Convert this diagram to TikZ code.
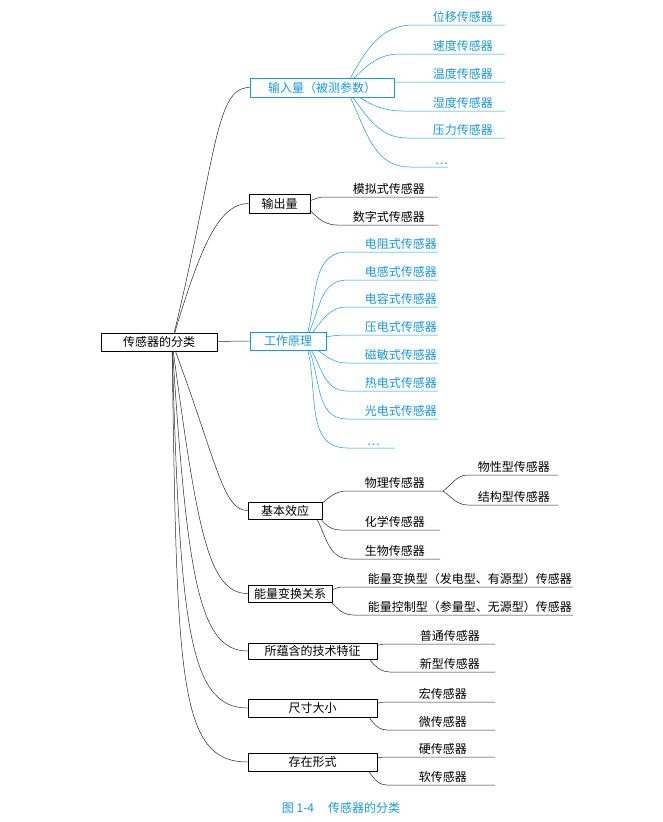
\documentclass[tikz,border=0pt]{standalone}
\usepackage{fontspec}
\setmainfont{Noto Sans CJK SC}
\definecolor{sblue}{RGB}{25,150,225}
\pgfdeclarelayer{bg}
\pgfsetlayers{bg,main}
\tikzset{
  box/.style={draw,line width=0.9pt,fill=white,inner sep=0pt,minimum height=18pt},
  bluebox/.style={box,draw=sblue,text=sblue},
  leaf/.style={anchor=south east,inner ysep=2pt,inner xsep=#1},
  leaf/.default=12pt,
  link/.style={line width=0.5pt,draw=black!85},
  bluelink/.style={line width=0.5pt,draw=sblue}
}
\begin{document}
\begin{tikzpicture}[x=1pt,y=-1pt,line cap=round,line join=round,
  every node/.style={font=\fontsize{12}{14}\selectfont}]
  \useasboundingbox (0,0) rectangle (663,822);
  % category boxes
  \node[box,minimum width=116pt] (root) at (159,342) {传感器的分类};
  \node[bluebox,minimum width=144pt,minimum height=19pt] (input) at (322,87.5) {输入量（被测参数）};
  \node[box,minimum width=61pt,minimum height=19pt] (output) at (279.5,203.5) {输出量};
  \node[bluebox,minimum width=76pt] (principle) at (288,341) {工作原理};
  \node[box,minimum width=74pt,minimum height=17pt] (effect) at (285,510.5) {基本效应};
  \node[box,minimum width=84pt,minimum height=17pt] (energy) at (290,593.5) {能量变换关系};
  \node[box,minimum width=129pt,minimum height=16pt] (tech) at (312.5,651) {所蕴含的技术特征};
  \node[box,minimum width=129pt] (size) at (312.5,708) {尺寸大小};
  \node[box,minimum width=129pt] (form) at (312.5,762) {存在形式};
  % leaves: input
  \node[leaf,text=sblue] (in1) at (505,25) {位移传感器};
  \node[leaf,text=sblue] (in2) at (505,54) {速度传感器};
  \node[leaf,text=sblue] (in3) at (505,82) {温度传感器};
  \node[leaf,text=sblue] (in4) at (505,111) {湿度传感器};
  \node[leaf,text=sblue] (in5) at (505,138) {压力传感器};
  \node[leaf=0pt,text=sblue] (in6) at (448,167) {…};
  % leaves: output
  \node[leaf=13pt] (out1) at (438,197) {模拟式传感器};
  \node[leaf=13pt] (out2) at (438,225) {数字式传感器};
  % leaves: principle
  \node[leaf=1pt,text=sblue] (p1) at (438,252) {电阻式传感器};
  \node[leaf=1pt,text=sblue] (p2) at (438,280) {电感式传感器};
  \node[leaf=1pt,text=sblue] (p3) at (438,307) {电容式传感器};
  \node[leaf=1pt,text=sblue] (p4) at (438,335) {压电式传感器};
  \node[leaf=1pt,text=sblue] (p5) at (438,363) {磁敏式传感器};
  \node[leaf=1pt,text=sblue] (p6) at (438,391) {热电式传感器};
  \node[leaf=1pt,text=sblue] (p7) at (438,419) {光电式传感器};
  \node[leaf=15pt,text=sblue] (p8) at (395,448) {…};
  % leaves: effect
  \node[leaf=18pt] (e1) at (443,491) {物理传感器};
  \node[leaf=8pt] (e11) at (558,475) {物性型传感器};
  \node[leaf=8pt] (e12) at (558,505) {结构型传感器};
  \node[leaf=15pt] (e2) at (440,530) {化学传感器};
  \node[leaf=15pt] (e3) at (440,559) {生物传感器};
  % leaves: energy
  \node[leaf=1pt] (n1) at (573,587) {能量变换型（发电型、有源型）传感器};
  \node[leaf=1pt] (n2) at (573,615) {能量控制型（参量型、无源型）传感器};
  % leaves: tech, size, form
  \node[leaf=15pt] (t1) at (495,644) {普通传感器};
  \node[leaf=15pt] (t2) at (495,672) {新型传感器};
  \node[leaf=28pt] (s1) at (495,702) {宏传感器};
  \node[leaf=28pt] (s2) at (495,730) {微传感器};
  \node[leaf=28pt] (f1) at (495,757) {硬传感器};
  \node[leaf=28pt] (f2) at (495,785) {软传感器};
  % caption
  \node[text=sblue] (caption) at (341,808) {图 1-4\hspace{14pt}传感器的分类};
  \begin{pgfonlayer}{bg}
    % root branches
    \draw[link] ([xshift=13pt]root.center) .. controls +(45,-185) and +(-35,0) .. (input.west);
    \draw[link] ([xshift=13pt]root.center) .. controls +(28,-95) and +(-30,0) .. (output.west);
    \draw[link] ([xshift=13pt]root.center) -- (principle.west);
    \draw[link] ([xshift=13pt]root.center) .. controls +(45,120) and +(-25,0) .. (effect.west);
    \draw[link] ([xshift=13pt]root.center) .. controls +(25,185) and +(-40,0) .. (energy.west);
    \draw[link] ([xshift=13pt]root.center) .. controls +(15,230) and +(-50,0) .. (tech.west);
    \draw[link] ([xshift=13pt]root.center) .. controls +(8,280) and +(-60,0) .. (size.west);
    \draw[link] ([xshift=13pt]root.center) .. controls +(5,335) and +(-70,0) .. (form.west);
    % input
    \draw[bluelink] ([xshift=23pt]input.center) to[out=60,in=180] ([xshift=-92pt]in1.south east) -- (in1.south east);
    \draw[bluelink] ([xshift=23pt]input.center) to[out=45,in=180] ([xshift=-105pt]in2.south east) -- (in2.south east);
    \draw[bluelink] ([xshift=23pt]input.center) to[out=10,in=180] ([xshift=-111pt]in3.south east) -- (in3.south east);
    \draw[bluelink] ([xshift=23pt]input.center) to[out=-35,in=180] ([xshift=-102pt]in4.south east) -- (in4.south east);
    \draw[bluelink] ([xshift=23pt]input.center) to[out=-50,in=180] ([xshift=-98pt]in5.south east) -- (in5.south east);
    \draw[bluelink] ([xshift=23pt]input.center) to[out=-60,in=180] ([xshift=-38pt]in6.south east) -- (in6.south east);
    % output
    \draw[link] ([xshift=23pt]output.center) to[out=15,in=180] ([xshift=-113pt]out1.south east) -- (out1.south east);
    \draw[link] ([xshift=23pt]output.center) to[out=-40,in=180] ([xshift=-101pt]out2.south east) -- (out2.south east);
    % principle
    \draw[bluelink] ([xshift=17pt]principle.center) to[out=70,in=180] ([xshift=-91pt]p1.south east) -- (p1.south east);
    \draw[bluelink] ([xshift=17pt]principle.center) to[out=60,in=180] ([xshift=-91pt]p2.south east) -- (p2.south east);
    \draw[bluelink] ([xshift=17pt]principle.center) to[out=45,in=180] ([xshift=-91pt]p3.south east) -- (p3.south east);
    \draw[bluelink] ([xshift=17pt]principle.center) to[out=10,in=180] ([xshift=-91pt]p4.south east) -- (p4.south east);
    \draw[bluelink] ([xshift=17pt]principle.center) to[out=-30,in=180] ([xshift=-91pt]p5.south east) -- (p5.south east);
    \draw[bluelink] ([xshift=17pt]principle.center) to[out=-50,in=180] ([xshift=-91pt]p6.south east) -- (p6.south east);
    \draw[bluelink] ([xshift=17pt]principle.center) to[out=-60,in=180] ([xshift=-91pt]p7.south east) -- (p7.south east);
    \draw[bluelink] ([xshift=17pt]principle.center) to[out=-70,in=180] ([xshift=-48pt]p8.south east) -- (p8.south east);
    % effect
    \draw[link] ([xshift=27pt]effect.center) to[out=30,in=180] ([xshift=-96pt]e1.south east) -- (e1.south east);
    \draw[link] (e1.south east) to[out=35,in=180] ([xshift=-90pt]e11.south east) -- (e11.south east);
    \draw[link] (e1.south east) to[out=-35,in=180] ([xshift=-90pt]e12.south east) -- (e12.south east);
    \draw[link] ([xshift=27pt]effect.center) to[out=-40,in=180] ([xshift=-100pt]e2.south east) -- (e2.south east);
    \draw[link] ([xshift=27pt]effect.center) to[out=-55,in=180] ([xshift=-90pt]e3.south east) -- (e3.south east);
    % energy
    \draw[link] ([xshift=32pt]energy.center) to[out=10,in=180] ([xshift=-230pt]n1.south east) -- (n1.south east);
    \draw[link] ([xshift=32pt]energy.center) to[out=-35,in=180] ([xshift=-220pt]n2.south east) -- (n2.south east);
    % tech, size, form
    \draw[link] ([xshift=47.5pt]tech.center) to[out=10,in=180] ([xshift=-108pt]t1.south east) -- (t1.south east);
    \draw[link] ([xshift=47.5pt]tech.center) to[out=-35,in=180] ([xshift=-105pt]t2.south east) -- (t2.south east);
    \draw[link] ([xshift=47.5pt]size.center) to[out=10,in=180] ([xshift=-108pt]s1.south east) -- (s1.south east);
    \draw[link] ([xshift=47.5pt]size.center) to[out=-35,in=180] ([xshift=-108pt]s2.south east) -- (s2.south east);
    \draw[link] ([xshift=47.5pt]form.center) to[out=10,in=180] ([xshift=-108pt]f1.south east) -- (f1.south east);
    \draw[link] ([xshift=47.5pt]form.center) to[out=-35,in=180] ([xshift=-108pt]f2.south east) -- (f2.south east);
  \end{pgfonlayer}
\end{tikzpicture}
\end{document}
